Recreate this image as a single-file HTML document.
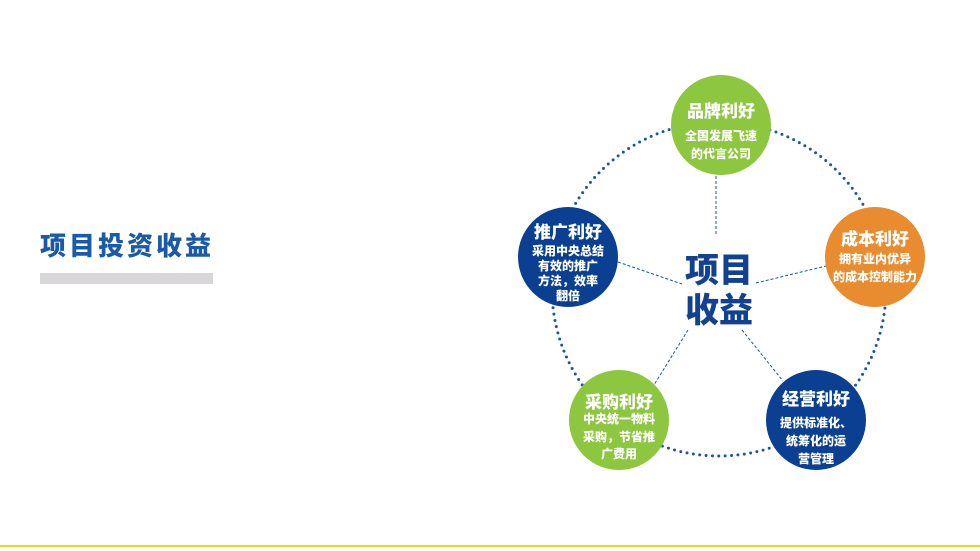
<!DOCTYPE html>
<html><head><meta charset="utf-8"><style>
html,body{margin:0;padding:0;background:#fff;}
body{width:980px;height:551px;overflow:hidden;position:relative;font-family:"Liberation Sans","Noto Sans CJK SC",sans-serif;}
.t{position:absolute;left:40px;top:230px;font-size:26px;font-weight:900;color:#1a5aa8;letter-spacing:3px;line-height:32px;white-space:nowrap;}
.bar{position:absolute;left:40px;top:273px;width:173px;height:11px;background:#d8d6d8;}
.y{position:absolute;left:0;top:545px;width:980px;height:2px;background:#f7d21e;}
svg{position:absolute;left:0;top:0;}
svg text{font-family:"Liberation Sans","Noto Sans CJK SC",sans-serif;font-weight:900;fill:#fff;text-anchor:middle;}
</style></head><body>
<div class="t">项目投资收益</div>
<div class="bar"></div>
<div class="y"></div>
<svg width="980" height="551" viewBox="0 0 980 551">
<circle cx="719" cy="289" r="167" fill="none" stroke="#1b56a4" stroke-width="3" stroke-dasharray="0 6.4" stroke-linecap="round"/>
<g stroke="#1b56a4" stroke-width="1" stroke-dasharray="3 2" fill="none">
<line x1="716" y1="176" x2="716" y2="236"/>
<line x1="618" y1="262" x2="682" y2="284"/>
<line x1="756" y1="283" x2="826" y2="266"/>
<line x1="688" y1="330" x2="654" y2="385"/>
<line x1="742" y1="330" x2="783" y2="381"/>
</g>
<circle cx="721" cy="125" r="50" fill="#8dc63f"/>
<circle cx="875" cy="257" r="50" fill="#e98b2f"/>
<circle cx="568" cy="257" r="50" fill="#0b3f91"/>
<circle cx="619" cy="420" r="50" fill="#8dc63f"/>
<circle cx="816" cy="420" r="50" fill="#0b3f91"/>
<text x="721" y="117" font-size="17">品牌利好</text>
<text x="721" y="140" font-size="12">全国发展飞速</text>
<text x="721" y="158" font-size="12">的代言公司</text>
<text x="568" y="238" font-size="17">推广利好</text>
<text x="568" y="255" font-size="12">采用中央总结</text>
<text x="568" y="270" font-size="12">有效的推广</text>
<text x="568" y="285" font-size="12">方法，效率</text>
<text x="568" y="300" font-size="12">翻倍</text>
<text x="875" y="245" font-size="17">成本利好</text>
<text x="875" y="263" font-size="12">拥有业内优异</text>
<text x="875" y="281" font-size="12">的成本控制能力</text>
<text x="619" y="408" font-size="17">采购利好</text>
<text x="619" y="423" font-size="12">中央统一物料</text>
<text x="619" y="441" font-size="12">采购，节省推</text>
<text x="619" y="458" font-size="12">广费用</text>
<text x="816" y="405" font-size="17">经营利好</text>
<text x="816" y="427" font-size="12">提供标准化、</text>
<text x="816" y="445" font-size="12">统筹化的运</text>
<text x="816" y="463" font-size="12">营管理</text>
<text x="719" y="282" font-size="34" style="fill:#12418f">项目</text>
<text x="719" y="322" font-size="34" style="fill:#12418f">收益</text>
</svg>
</body></html>
